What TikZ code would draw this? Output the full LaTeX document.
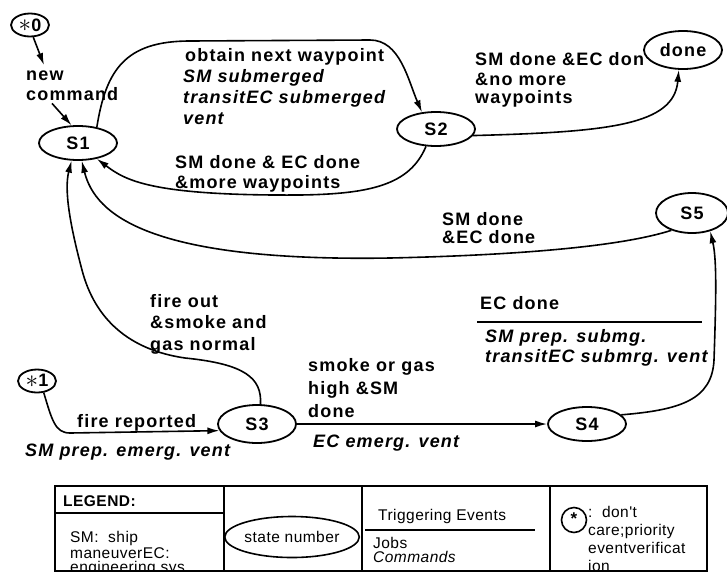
\documentclass[tikz,border=0pt]{standalone}
\usepackage{graphicx}
\usepackage{fontspec}
\setmainfont{Liberation Sans}
\newfontfamily\lblfont[LetterSpace=6.5]{Liberation Sans}
\newfontfamily\legfont[LetterSpace=3]{Liberation Sans}
\usetikzlibrary{shapes.geometric,arrows.meta}
\newcommand\thinstar{\raisebox{-0.5pt}{\scalebox{1.45}{$\ast$}}}
\begin{document}
\begin{tikzpicture}[x=1pt,y=-1pt,
  every node/.style={inner sep=0pt},
  lblsize/.style={font=\lblfont\bfseries\fontsize{18}{21}\selectfont},
  state/.style={ellipse, draw, line width=1.8pt, fill=white,
    minimum width=78pt, minimum height=34pt, lblsize},
  start/.style={ellipse, draw, line width=1.8pt, fill=white,
    minimum width=38pt, minimum height=23pt, lblsize},
  evt/.style={anchor=base west, align=left, lblsize},
  job/.style={anchor=base west, align=left,
    font=\lblfont\bfseries\itshape\fontsize{18}{21}\selectfont},
  conn/.style={line width=1.6pt, -{Latex[length=12pt,width=7pt]}},
  wire/.style={line width=1.6pt},
  legline/.style={line width=1.8pt},
  legtext/.style={anchor=base west, align=left,
    font=\legfont\fontsize{15.5}{14}\selectfont},
]
\useasboundingbox (0,0) rectangle (727,571);

% ---- states ----
\node[start] (s0) at (30,25) {\thinstar0};
\node[start] (s1) at (37,381) {\thinstar1};
\node[state] (S1) at (78,143) {S1};
\node[state] (S2) at (436,129) {S2};
\node[state, minimum height=38pt] (done) at (683,50) {done};
\node[state, minimum width=72pt, minimum height=40pt] (S5) at (692,213) {S5};
\node[state, minimum height=38pt] (S3) at (257,424) {S3};
\node[state] (S4) at (587,424) {S4};

% ---- transition labels (multi-line nodes sit on their last baseline) ----
\node[evt] (newcmd) at (26,100) {new\\[-1pt]command};
\node[evt] (obtain) at (185,61) {obtain next waypoint};
\node[job] (subm) at (183,124) {SM submerged\\transitEC submerged\\vent};
\node[evt] (more) at (175,188) {SM done \& EC done\\[-1pt]\&more waypoints};
\node[evt] (nomore) at (475,103) {SM done \&EC don\\[-1pt]\&no more\\[-3pt]waypoints};
\node[evt] (smec) at (442,243) {SM done\\[-3pt]\&EC done};
\node[evt] (fireout) at (150,350) {fire out\\[0.5pt]\&smoke and\\[0.5pt]gas normal};
\node[evt] (firerep) at (77,427) {fire reported};
\node[job] (emerg) at (25,456) {SM prep. emerg. vent};
\node[evt] (smoke) at (308,417) {smoke or gas\\[2pt]high \&SM\\[2pt]done};
\node[job] (ecvent) at (313,447) {EC emerg. vent};
\node[evt] (ecdone) at (480,309) {EC done};
\node[job] (submg) at (485,362) {SM prep. submg.\\[-1pt]transitEC submrg. vent};
\draw[wire] (477,322) -- (702,322);

% ---- transitions ----
\draw[conn] (s0.285) -- ([xshift=18pt,yshift=5pt]newcmd.north west);
\draw[conn] ([xshift=26pt,yshift=-3pt]newcmd.south west) -- (S1.110);

\draw[conn] (S1.40) .. controls (106,70) and (125,41) .. (190,41)
  -- (370,40) .. controls (400,40) and (408,80) .. (S2.130);

\draw[conn] (S2.240) .. controls (410,185) and (370,194) .. (300,195)
  .. controls (150,196) and (125,180) .. (S1.320);

\draw[conn] (S2.350) .. controls (610,132) and (674,125) .. (done.258);

\draw[conn] (S5.220) .. controls (610,250) and (480,256) .. (390,258)
  .. controls (150,262) and (95,215) .. (S1.282);

\draw[conn] (S3.80) .. controls (262,378) and (245,364) .. (185,358)
  .. controls (130,350) and (95,320) .. (82,270)
  .. controls (70,225) and (64,190) .. (S1.250);

\draw[conn] (s1.300) .. controls (52,420) and (55,433) .. (70,433)
  -- (S3.190);

\draw[conn] (S3) -- (S4);

\draw[conn] (S4.15) .. controls (680,410) and (712,400) .. (714,360)
  .. controls (716,300) and (717,260) .. (S5.315);

% ---- legend (its lower part runs past the page edge) ----
\draw[legline] (55,486) rectangle (707,571);
\draw[legline] (55,513) -- (224,513);
\draw[legline] (224,486) -- (224,571);
\draw[legline] (362,486) -- (362,571);
\draw[legline] (550,486) -- (550,571);
\node[anchor=base west, font=\legfont\bfseries\fontsize{15.5}{14}\selectfont] (legtitle) at (63,506) {LEGEND:};
\node[legtext] (abbr) at (70,572) {SM:\ \ ship\\maneuverEC:\\engineering sys};
\node[ellipse, draw, line width=1.6pt, minimum width=126pt, minimum height=41pt,
  font=\legfont\fontsize{15.5}{14}\selectfont] (key) at (292,537) {state number};
\node[legtext] (trig) at (378,520) {Triggering Events};
\draw[legline] (365,530) -- (535,530);
\node[legtext] (jobs) at (373,562) {Jobs\\[0pt]\itshape Commands};
\node[circle, draw, line width=1.6pt, minimum size=25pt] (star) at (574,520)
  {\raisebox{2pt}{\fontsize{17}{17}\selectfont\bfseries *}};
\node[legtext, font=\legfont\fontsize{15.5}{18}\selectfont] (dontcare) at (588,571)
  {:\ \ don't\\care;priority\\eventverificat\\ion};
\end{tikzpicture}
\end{document}
